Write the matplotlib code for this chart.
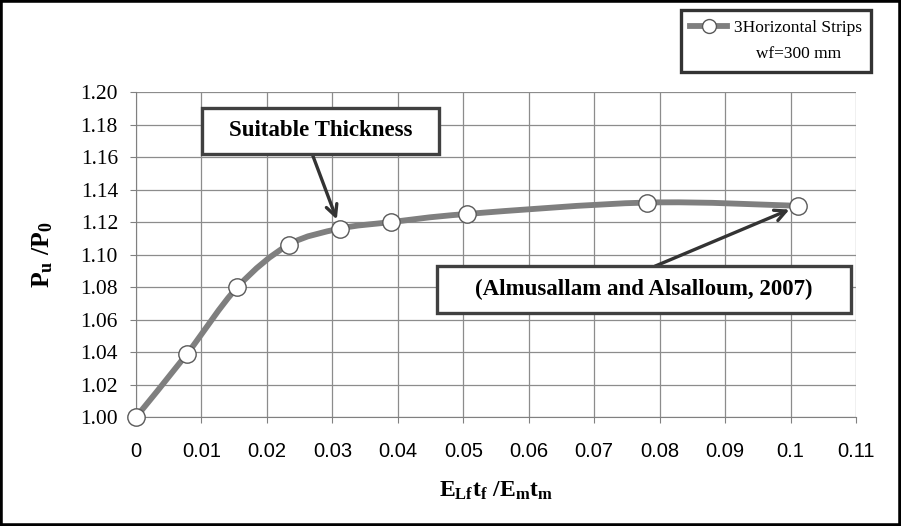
import numpy as np
import matplotlib
matplotlib.use("Agg")
import matplotlib.pyplot as plt
from matplotlib.path import Path
from matplotlib.patches import PathPatch, Rectangle
from matplotlib.lines import Line2D

plt.rcParams['mathtext.fontset'] = 'custom'
plt.rcParams['mathtext.rm'] = 'Liberation Serif:bold'
plt.rcParams['mathtext.it'] = 'Liberation Serif:bold'
plt.rcParams['mathtext.bf'] = 'Liberation Serif:bold'

# data
stiffness = [0.0, 0.0078, 0.0155, 0.0233, 0.0312, 0.0390, 0.0506, 0.0780, 0.1012]
ratio = [1.000, 1.039, 1.080, 1.106, 1.116, 1.120, 1.125, 1.132, 1.130]
series_label = "3Horizontal Strips"
series_note = "wf=300 mm"
x_ticks = [0, 0.01, 0.02, 0.03, 0.04, 0.05, 0.06, 0.07, 0.08, 0.09, 0.1, 0.11]
x_ticklabels = ["0", "0.01", "0.02", "0.03", "0.04", "0.05", "0.06", "0.07",
                "0.08", "0.09", "0.1", "0.11"]
y_ticks = [1.00, 1.02, 1.04, 1.06, 1.08, 1.10, 1.12, 1.14, 1.16, 1.18, 1.20]

line_color = '#7f7f7f'


def smooth_path(xs, ys):
    # bezier segments through the points (like a spreadsheet "smoothed line")
    pts = np.column_stack([xs, ys])
    n = len(pts)
    verts = [pts[0]]
    codes = [Path.MOVETO]
    for i in range(n - 1):
        p0 = pts[i - 1] if i > 0 else pts[i]
        p1 = pts[i]
        p2 = pts[i + 1]
        p3 = pts[i + 2] if i + 2 < n else pts[i + 1]
        c1 = p1 + (p2 - p0) / 6.0
        c2 = p2 - (p3 - p1) / 6.0
        verts += [c1, c2, p2]
        codes += [Path.CURVE4] * 3
    return Path(verts, codes)


fig = plt.figure(figsize=(9.01, 5.26), dpi=100)
ax = fig.add_axes([0.151, 0.207, 0.799, 0.618])

ax.add_patch(PathPatch(smooth_path(stiffness, ratio), facecolor='none',
                       edgecolor=line_color, lw=4.2, capstyle='round', zorder=3))
ax.plot(stiffness, ratio, ls='none', marker='o', ms=12.5, mfc='white',
        mec='#595959', mew=1.0, zorder=4, clip_on=False)

ax.set_xlim(0, 0.11)
ax.set_ylim(1.0, 1.2)
ax.set_xticks(x_ticks)
ax.set_xticklabels(x_ticklabels, family='Liberation Sans', fontsize=14.5)
ax.set_yticks(y_ticks)
ax.set_yticklabels([f"{v:.2f}" for v in y_ticks], family='Liberation Serif', fontsize=15.5)
ax.tick_params(axis='x', length=4, pad=14, color='#808080')
ax.tick_params(axis='y', length=4, pad=9, color='#808080')
ax.grid(True, color='#8c8c8c', lw=0.9)
ax.set_axisbelow(True)
for s in ['top', 'right']:
    ax.spines[s].set_visible(False)
for s in ['left', 'bottom']:
    ax.spines[s].set_color('#808080')

ax.set_ylabel(r"$\mathrm{P_u\ /P_0}$", fontsize=18.5, labelpad=18)
ax.set_xlabel(r"$\mathrm{E_{Lf}t_f\ /E_mt_m}$", fontsize=17, labelpad=12)

# legend: series entry, then the width note on its own row
handle = Line2D([], [], color=line_color, lw=4.2, marker='o', ms=10,
                mfc='white', mec='#595959')
blank = Line2D([], [], color='none')
leg = fig.legend([handle, blank], [series_label, "     " + series_note],
                 loc='upper right',
                 bbox_to_anchor=(0.967, 0.981), frameon=True, fancybox=False,
                 prop={'family': 'Liberation Serif', 'size': 12.5},
                 handlelength=2.1, borderpad=0.55, handletextpad=0.4,
                 labelspacing=0.6, borderaxespad=0.0)
leg.get_frame().set_edgecolor('black')
leg.get_frame().set_linewidth(2.4)

# annotation boxes
def note(text, cx, cy, w, h, target, start):
    fig.patches.append(Rectangle((cx - w / 2, cy - h / 2), w, h, transform=fig.transFigure,
                                 facecolor='white', edgecolor='#404040', lw=2.4, zorder=5))
    fig.text(cx, cy, text, ha='center', va='center', family='Liberation Serif',
             weight='bold', fontsize=16.5, zorder=6)
    ax.annotate('', xy=target, xycoords='data', xytext=start, textcoords='figure fraction',
                arrowprops=dict(arrowstyle='->', color='#333333', lw=2.4,
                                mutation_scale=20, shrinkA=0, shrinkB=7),
                annotation_clip=False, zorder=6)

note("Suitable Thickness", 0.356, 0.751, 0.263, 0.089,
     (stiffness[4], ratio[4]), (0.347, 0.705))
note("(Almusallam and Alsalloum, 2007)", 0.715, 0.450, 0.459, 0.089,
     (stiffness[8], ratio[8]), (0.727, 0.494))

# outer frame
fig.patches.append(Rectangle((0, 0), 1, 1, transform=fig.transFigure,
                             facecolor='none', edgecolor='black', lw=4))

fig.savefig('out.png', dpi=100)
